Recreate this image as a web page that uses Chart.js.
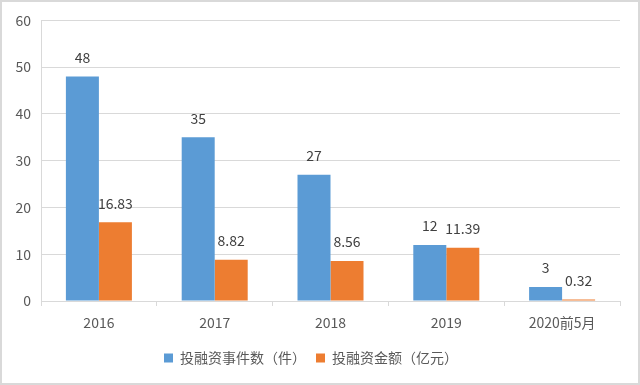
<!DOCTYPE html>
<html>
<head>
<meta charset="utf-8">
<script src="https://cdn.jsdelivr.net/npm/chart.js@4/dist/chart.umd.min.js"></script>
<style>
html,body{margin:0;padding:0;background:#fff;}
#wrap{width:640px;height:385px;box-sizing:border-box;border:2px solid #d9d9d9;background:#fff;}
canvas{display:block;}
</style>
</head>
<body>
<div id="wrap"><canvas id="c" width="636" height="381"></canvas></div>
<script>
const categories = ['2016', '2017', '2018', '2019', '2020前5月'];
const eventCounts = [48, 35, 27, 12, 3];
const fundAmounts = [16.83, 8.82, 8.56, 11.39, 0.32];
const yTicks = [0, 10, 20, 30, 40, 50, 60];
const seriesNames = ['投融资事件数（件）', '投融资金额（亿元）'];

const FONT = '"Noto Sans CJK SC", "DejaVu Sans", sans-serif';

const labelPlugin = {
  id: 'barLabels',
  afterDatasetsDraw(chart) {
    const ctx = chart.ctx;
    ctx.save();
    ctx.font = '14px ' + FONT;
    ctx.fillStyle = '#404040';
    ctx.textAlign = 'center';
    ctx.textBaseline = 'middle';
    chart.data.datasets.forEach((ds, i) => {
      const meta = chart.getDatasetMeta(i);
      meta.data.forEach((bar, j) => {
        ctx.fillText(String(ds.data[j]), bar.x, bar.y - 19);
      });
    });
    ctx.restore();
  }
};

new Chart(document.getElementById('c'), {
  type: 'bar',
  data: {
    labels: categories,
    datasets: [
      { label: seriesNames[0], data: eventCounts, backgroundColor: '#5B9BD5', categoryPercentage: 0.57, barPercentage: 1.0 },
      { label: seriesNames[1], data: fundAmounts, backgroundColor: '#ED7D31', categoryPercentage: 0.57, barPercentage: 1.0 }
    ]
  },
  options: {
    responsive: false,
    animation: false,
    layout: { padding: { left: 0, right: 18, top: 18, bottom: 8 } },
    plugins: {
      legend: {
        position: 'bottom',
        labels: {
          boxWidth: 9, boxHeight: 9, padding: 10,
          color: '#595959',
          font: { family: FONT, size: 14 }
        }
      },
      tooltip: { enabled: false }
    },
    scales: {
      x: {
        afterFit(scale) { scale.height = 40; },
        grid: { display: true, drawOnChartArea: false, drawTicks: true, tickLength: 5, color: '#d9d9d9', offset: true },
        border: { display: true, color: '#d9d9d9' },
        ticks: { color: '#595959', font: { family: FONT, size: 14 }, padding: 8 }
      },
      y: {
        min: 0, max: 60,
        afterBuildTicks(scale) { scale.ticks = yTicks.map(v => ({ value: v })); },
        afterFit(scale) { scale.width = 39; },
        grid: { color: '#d9d9d9', drawTicks: false },
        border: { display: true, color: '#d9d9d9' },
        ticks: { color: '#595959', font: { family: FONT, size: 14 }, padding: 10 }
      }
    }
  },
  plugins: [labelPlugin]
});
</script>
</body>
</html>
